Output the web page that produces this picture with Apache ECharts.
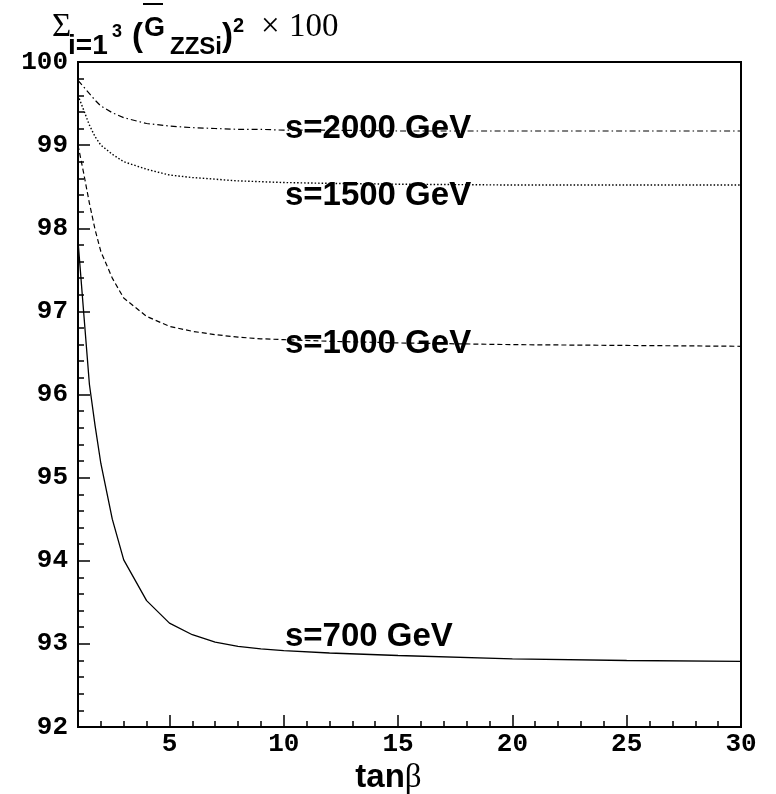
<!DOCTYPE html>
<html>
<head>
<meta charset="utf-8">
<script src="https://cdn.jsdelivr.net/npm/echarts@6/dist/echarts.min.js"></script>
<style>
html,body{margin:0;padding:0;background:#fff;}
#chart{width:776px;height:794px;}
</style>
</head>
<body>
<div id="chart"></div>
<script>
// ---- data ----
var tanBeta = [1, 1.25, 1.5, 1.75, 2, 2.5, 3, 4, 5, 6, 7, 8, 9, 10, 12, 15, 20, 25, 30];
var s700  = [97.85, 96.98, 96.12, 95.62, 95.17, 94.50, 94.01, 93.52, 93.25, 93.11, 93.02, 92.97, 92.94, 92.92, 92.89, 92.86, 92.82, 92.80, 92.79];
var s1000 = [99.00, 98.66, 98.30, 97.98, 97.72, 97.40, 97.16, 96.94, 96.82, 96.76, 96.72, 96.69, 96.67, 96.66, 96.64, 96.62, 96.60, 96.59, 96.58];
var s1500 = [99.60, 99.42, 99.24, 99.10, 99.00, 98.89, 98.80, 98.71, 98.64, 98.61, 98.59, 98.57, 98.56, 98.55, 98.54, 98.53, 98.52, 98.52, 98.52];
var s2000 = [99.78, 99.70, 99.62, 99.54, 99.47, 99.39, 99.33, 99.26, 99.23, 99.21, 99.20, 99.19, 99.19, 99.18, 99.18, 99.17, 99.17, 99.17, 99.17];
var seriesNames = ['s=700 GeV', 's=1000 GeV', 's=1500 GeV', 's=2000 GeV'];
var xMajorTicks = [5, 10, 15, 20, 25, 30];
var xMinorTicks = [2, 3, 4, 6, 7, 8, 9, 11, 12, 13, 14, 16, 17, 18, 19, 21, 22, 23, 24, 26, 27, 28, 29];

function pairs(ys) { return tanBeta.map(function (x, i) { return [x, ys[i]]; }); }

var SANS = 'Liberation Sans, Arial, sans-serif';
var SERIF = 'Liberation Serif, Times New Roman, serif';
var MONO = 'Liberation Mono, Courier New, monospace';

function mkSeries(name, ys, dash, width, lx, ly) {
  return {
    name: name, type: 'line', data: pairs(ys), symbol: 'none', smooth: false,
    silent: true, animation: false,
    lineStyle: {color: '#000', width: width, type: dash},
    markPoint: {
      silent: true, animation: false, symbol: 'circle', symbolSize: 0,
      itemStyle: {color: 'rgba(0,0,0,0)'},
      label: {show: true, position: 'right', distance: 0, formatter: name,
        color: '#000', fontSize: 33, fontWeight: 'bold', fontFamily: SANS},
      data: [{coord: [lx, ly]}]
    }
  };
}

var monoLabel = {color: '#000', fontSize: 26, fontWeight: 'bold', fontFamily: MONO};

function txt(t, x, baseline, size, family, weight) {
  return {type: 'text', x: x, y: baseline + 2 - 0.3 * size, silent: true,
    style: {text: t, fontSize: size, fontFamily: family, fontWeight: weight || 'normal', fill: '#000', textVerticalAlign: 'middle', textAlign: 'left'}};
}

var chart = echarts.init(document.getElementById('chart'), null, {renderer: 'canvas'});
chart.setOption({
  animation: false,
  backgroundColor: '#fff',
  grid: {left: 78, right: 35, top: 62, bottom: 67, outerBoundsMode: 'none', containLabel: false,
    show: true, borderColor: '#000', borderWidth: 2, backgroundColor: 'transparent'},
  xAxis: [{
    type: 'value', min: 1, max: 30, position: 'bottom',
    axisLine: {show: true, onZero: false, lineStyle: {color: '#000', width: 2}},
    axisTick: {show: true, inside: true, length: 12, customValues: xMajorTicks, lineStyle: {color: '#000', width: 1.5}},
    axisLabel: Object.assign({show: true, margin: 4, customValues: xMajorTicks}, monoLabel),
    splitLine: {show: false},
    name: 'tan{b|β}', nameLocation: 'middle', nameGap: 15,
    nameTextStyle: {color: '#000', fontSize: 33, fontWeight: 'bold', fontFamily: SANS, padding: [0, 42, 0, 0],
      rich: {b: {fontSize: 33, fontWeight: 'normal', fontFamily: SERIF}}}
  }, {
    type: 'value', min: 1, max: 30, position: 'bottom',
    axisLine: {show: false, onZero: false},
    axisTick: {show: true, inside: true, length: 6, customValues: xMinorTicks, lineStyle: {color: '#000', width: 1.5}},
    axisLabel: {show: false},
    splitLine: {show: false}
  }],
  yAxis: {
    type: 'value', min: 92, max: 100, interval: 1,
    axisLine: {show: true, onZero: false, lineStyle: {color: '#000', width: 2}},
    axisTick: {show: true, inside: true, length: 12, lineStyle: {color: '#000', width: 1.5}},
    minorTick: {show: true, splitNumber: 5, length: 6, lineStyle: {color: '#000', width: 1.5}},
    axisLabel: Object.assign({margin: 10}, monoLabel),
    splitLine: {show: false}
  },
  series: [
    mkSeries(seriesNames[0], s700, 'solid', 1.3, 10.05, 93.08),
    mkSeries(seriesNames[1], s1000, [5, 3], 1.2, 10.05, 96.61),
    mkSeries(seriesNames[2], s1500, [1.5, 2], 1.4, 10.05, 98.39),
    mkSeries(seriesNames[3], s2000, [6, 3, 1.5, 3], 1.2, 10.05, 99.19)
  ],
  graphic: [
    txt('Σ', 52, 35, 33, SERIF),
    txt('i=1', 68, 53, 28, SANS, 'bold'),
    txt('3', 112, 35, 18, SANS, 'bold'),
    txt('(', 132, 45, 33, SANS, 'bold'),
    txt('G', 144, 35, 27, SANS, 'bold'),
    {type: 'line', silent: true, shape: {x1: 143, y1: 4, x2: 163, y2: 4}, style: {stroke: '#000', lineWidth: 2}},
    txt('ZZSi', 170, 53, 24, SANS, 'bold'),
    txt(')', 222, 45, 33, SANS, 'bold'),
    txt('2', 233, 30, 20, SANS, 'bold'),
    txt('×', 261, 35, 33, SERIF),
    txt('100', 289, 35, 33, SERIF)
  ]
});
</script>
</body>
</html>
